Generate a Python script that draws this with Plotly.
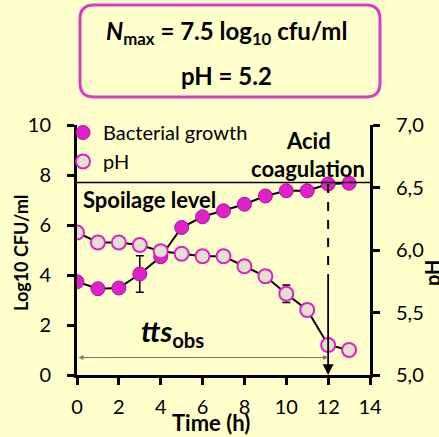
import plotly.graph_objects as go

# data
time_h = [0, 1, 2, 3, 4, 5, 6, 7, 8, 9, 10, 11, 12, 13]
log_cfu = [3.73, 3.45, 3.48, 4.04, 4.73, 5.9, 6.33, 6.57, 6.83, 7.16, 7.37, 7.37, 7.64, 7.67]
log_cfu_err = [None, None, None, 0.73, None, None, None, None, None, None, None, None, None, None]
ph = [6.14, 6.06, 6.06, 6.04, 5.99, 5.97, 5.95, 5.95, 5.87, 5.79, 5.65, 5.52, 5.24, 5.2]
ph_err = [None, None, None, None, None, None, None, None, None, None, 0.07, 0.05, None, None]
spoilage_level = 7.7
coag_time = 12
ph_ticks = [5.0, 5.5, 6.0, 6.5, 7.0]
ph_ticktext = ["5,0", "5,5", "6,0", "6,5", "7,0"]

BG = "#FFFFCC"
MAG = "#E020C8"
FONT = "Lato"

W, H = 439, 437
L, R, T, B = 77, 69, 125, 62
pw, ph_px = W - L - R, H - T - B


def px_x(p):
    return (p - L) / pw


def px_y(p):
    return (H - B - p) / ph_px


def paper_text(x, y, text, size, angle=0):
    # text placed by its centre, in page pixels
    fig.add_annotation(x=px_x(x), y=px_y(y), xref="paper", yref="paper", showarrow=False,
                       xanchor="center", yanchor="middle", textangle=angle, text=text,
                       font=dict(family=FONT, size=size, color="black"))


fig = go.Figure()

fig.add_trace(go.Scatter(x=time_h, y=log_cfu, mode="lines", line=dict(color="black", width=2),
                         showlegend=False, hoverinfo="skip"))
fig.add_trace(go.Scatter(x=time_h, y=log_cfu, mode="markers", name="Bacterial growth",
                         marker=dict(size=14, color=MAG, line=dict(color="#B0109A", width=1)),
                         error_y=dict(type="data", array=log_cfu_err, color="black", thickness=1.5, width=4)))
fig.add_trace(go.Scatter(x=time_h, y=ph, mode="lines", yaxis="y2", line=dict(color="black", width=2),
                         showlegend=False, hoverinfo="skip"))
fig.add_trace(go.Scatter(x=time_h, y=ph, mode="markers", name="pH", yaxis="y2",
                         marker=dict(size=14, color="#E2E2CC", line=dict(color=MAG, width=2)),
                         error_y=dict(type="data", array=ph_err, color="black", thickness=1.5, width=4)))

# spoilage level line
fig.add_shape(type="line", xref="x", yref="y", x0=0, x1=14, y0=spoilage_level, y1=spoilage_level,
              line=dict(color="black", width=1.5))
# dashed part of the coagulation marker
fig.add_shape(type="line", xref="x", yref="y", x0=coag_time, x1=coag_time, y0=log_cfu[12], y1=4.1,
              line=dict(color="black", width=2, dash="dash"))
fig.add_annotation(x=coag_time, y=0, ax=coag_time, ay=4.1, xref="x", yref="y", axref="x", ayref="y",
                   text="", showarrow=True, arrowhead=2, arrowsize=1.2, arrowwidth=1.8, arrowcolor="black")
# tts arrow
fig.add_annotation(x=coag_time, y=0.7, ax=0, ay=0.7, xref="x", yref="y", axref="x", ayref="y",
                   text="", showarrow=True, arrowhead=2, startarrowhead=2, arrowside="end+start",
                   arrowsize=1, arrowwidth=1, arrowcolor="#777777")

# title box
x0, x1 = px_x(80), px_x(380)
y0, y1 = px_y(97), px_y(5)
rx, ry = 14 / pw, 14 / ph_px
path = (f"M {x0 + rx},{y1} L {x1 - rx},{y1} Q {x1},{y1} {x1},{y1 - ry} "
        f"L {x1},{y0 + ry} Q {x1},{y0} {x1 - rx},{y0} L {x0 + rx},{y0} "
        f"Q {x0},{y0} {x0},{y0 + ry} L {x0},{y1 - ry} Q {x0},{y1} {x0 + rx},{y1} Z")
fig.add_shape(type="path", xref="paper", yref="paper", path=path,
              line=dict(color="#D83CC0", width=3), fillcolor=BG)

paper_text(226, 33, "<b><i>N</i><sub>max</sub> = 7.5 log<sub>10</sub> cfu/ml</b>", 24)
paper_text(226, 75, "<b>pH = 5.2</b>", 24)

afont = dict(family=FONT, size=22, color="black")
fig.add_annotation(x=0.2, y=7.04, xref="x", yref="y", xanchor="left", showarrow=False,
                   text="<b>Spoilage level</b>", font=afont)
fig.add_annotation(x=11.04, y=9.4, xref="x", yref="y", showarrow=False,
                   text="<b>Acid</b>", font=afont)
fig.add_annotation(x=11.04, y=8.28, xref="x", yref="y", showarrow=False,
                   text="<b>coagulation</b>", font=afont)
fig.add_annotation(x=4.55, y=1.7, xref="x", yref="y", showarrow=False,
                   text="<b><i>tts</i></b><b><sub>obs</sub></b>", font=dict(family=FONT, size=29, color="black"))

# axis titles
paper_text(21, 253, "<b>Log10 CFU/ml</b>", 18, -90)
paper_text(432, 273, "<b>pH</b>", 20, -90)
paper_text(211, 422, "<b>Time (h)</b>", 22)

axis_common = dict(showgrid=False, zeroline=False, showline=True, linecolor="black", linewidth=3,
                   ticks="outside", ticklen=7, tickwidth=2.5, tickcolor="black",
                   tickfont=dict(family=FONT, size=20, color="black"))

fig.update_layout(
    width=W, height=H,
    margin=dict(l=L, r=R, t=T, b=B),
    paper_bgcolor=BG, plot_bgcolor=BG,
    xaxis=dict(range=[0, 14], dtick=2, ticklabelstandoff=5, **axis_common),
    yaxis=dict(range=[0, 10], dtick=2, ticklabelstandoff=12, **axis_common),
    yaxis2=dict(range=[5, 7], overlaying="y", side="right", tickvals=ph_ticks, ticktext=ph_ticktext,
                ticklabelstandoff=12, **axis_common),
    legend=dict(x=px_x(63), y=px_y(113), xanchor="left", yanchor="top", bgcolor="rgba(0,0,0,0)",
                font=dict(family=FONT, size=20, color="black"), tracegroupgap=0, itemwidth=30),
    showlegend=True,
)

fig.write_html("out.html", config={"displayModeBar": False},
               post_script="document.body.style.margin='0px';")
